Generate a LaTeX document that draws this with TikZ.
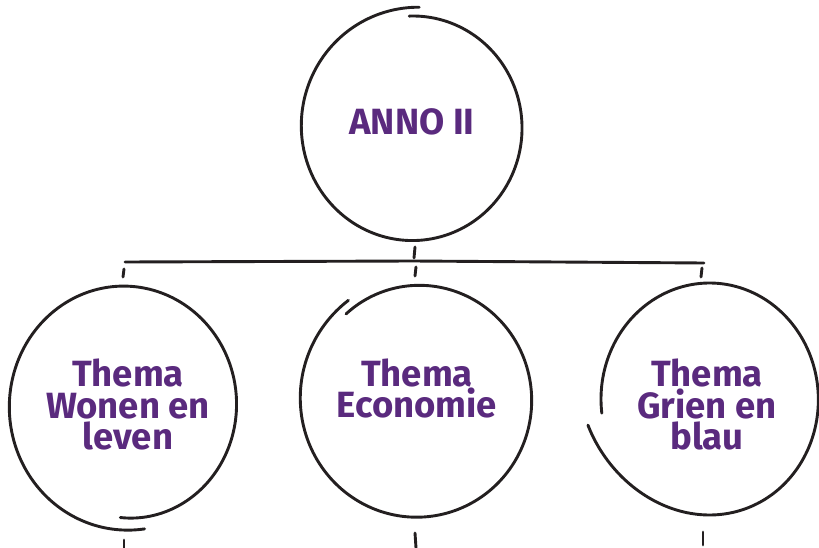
\documentclass[tikz,border=0pt]{standalone}
\usepackage{fontspec}
\setmainfont{Fira Sans}
\definecolor{ink}{HTML}{231F20}
\definecolor{paars}{HTML}{5A2A7E}
\tikzset{
  hand/.style={draw=ink, line width=2.9pt, line cap=round, line join=round},
  thema/.style={text=paars, font=\fontsize{36.5}{31.5}\selectfont\bfseries, inner sep=0pt, anchor=base, text height=26pt, text depth=0pt},
}
\begin{document}
\begin{tikzpicture}[x=1pt,y=-1pt]
\useasboundingbox (0,0) rectangle (819,548);
% text nodes, one per printed line
\node[thema] (anno) at (412,135) {ANNO II};
\node[thema] (wonen1) at (128,386) {Thema};
\node[thema] (wonen2) at (128,418) {Wonen en};
\node[thema] (wonen3) at (128,449) {leven};
\node[thema] (econ1) at (417,386) {Thema};
\node[thema] (econ2) at (417,417) {Economie};
\node[thema] (grien1) at (707,386) {Thema};
\node[thema] (grien2) at (707,418) {Grien en};
\node[thema] (grien3) at (707,449) {blau};
% hand-drawn rings
\draw[hand] plot[smooth,domain=-92:273,samples=120,variable=\t]
  ({413+109*(1+0.08*((\t+92)/365)^4)*cos(\t)},{128+112*(1+0.08*((\t+92)/365)^4)*sin(\t)});
\draw[hand] plot[smooth,domain=80:452,samples=120,variable=\t]
  ({124+114*(1+0.04*(1-(\t-80)/372)^6-0.07*((\t-80)/372)^6)*cos(\t)},
   {406+120*(1+0.04*(1-(\t-80)/372)^6-0.07*((\t-80)/372)^6)*sin(\t)});
\draw[hand] plot[smooth,domain=-130:235,samples=120,variable=\t]
  ({417+115*(1-0.04*(1-(\t+130)/365)^6+0.04*((\t+130)/365)^6)*cos(\t)},
   {400+117*(1-0.04*(1-(\t+130)/365)^6+0.04*((\t+130)/365)^6)*sin(\t)});
\draw[hand] plot[smooth,domain=173:527,samples=120,variable=\t]
  ({709.5+108.5*(1+0.15*((\t-173)/354)^6)*cos(\t)},{399+116*sin(\t)});
% connector line and stubs
\coordinate (hl) at (125,262);
\coordinate (hm) at (413,261);
\coordinate (hr) at (704,263);
\draw[hand] (hl) -- (hm) -- (hr);
\coordinate (a1) at (415,247); \coordinate (a2) at (414,258);
\coordinate (b1) at (416,267); \coordinate (b2) at (415,276);
\coordinate (c1) at (124,269); \coordinate (c2) at (123,277);
\coordinate (d1) at (702,268); \coordinate (d2) at (701,277);
\coordinate (e1) at (124,540); \coordinate (e2) at (124,548);
\coordinate (f1) at (415,533); \coordinate (f2) at (416,548);
\coordinate (g1) at (703,532); \coordinate (g2) at (703,545);
\foreach \p/\q in {a1/a2,b1/b2,c1/c2,d1/d2,e1/e2,f1/f2,g1/g2}
  \draw[hand] (\p) -- (\q);
\end{tikzpicture}
\end{document}
